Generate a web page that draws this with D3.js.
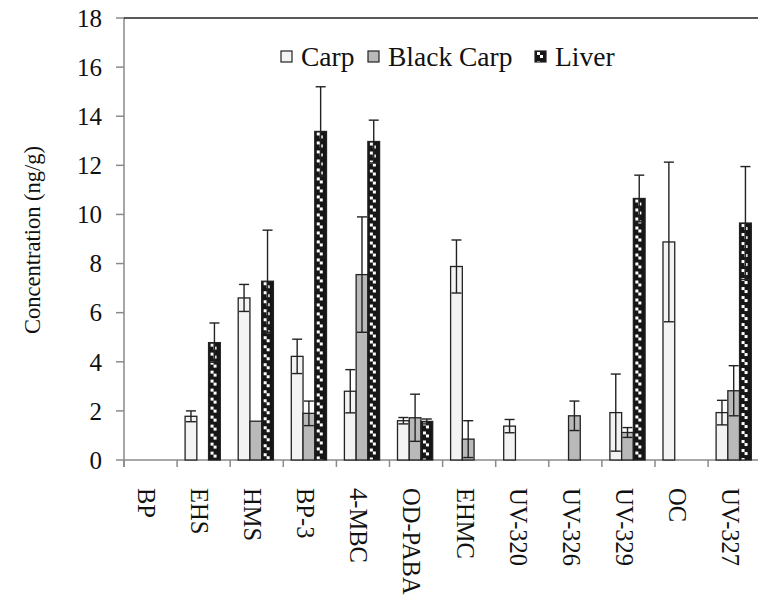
<!DOCTYPE html>
<html>
<head>
<meta charset="utf-8">
<script src="https://cdn.jsdelivr.net/npm/d3@7"></script>
<style>
  body { margin: 0; background: #fff; }
</style>
</head>
<body>
<div id="chart"></div>
<script>
// Data
const categories = ['BP', 'EHS', 'HMS', 'BP-3', '4-MBC', 'OD-PABA', 'EHMC', 'UV-320', 'UV-326', 'UV-329', 'OC', 'UV-327'];
const seriesNames = ['Carp', 'Black Carp', 'Liver'];

const carpVals = [0, 1.78, 6.6, 4.22, 2.8, 1.6, 7.88, 1.38, 0, 1.93, 8.88, 1.93];
const carpErr  = [0, 0.22, 0.55, 0.7, 0.88, 0.13, 1.08, 0.27, 0, 1.57, 3.25, 0.5];
const blackVals = [0, 0, 1.58, 1.9, 7.55, 1.72, 0.85, 0, 1.8, 1.12, 0, 2.82];
const blackErr  = [0, 0, 0, 0.5, 2.35, 0.96, 0.75, 0, 0.6, 0.2, 0, 1.02];
const liverVals = [0, 4.78, 7.28, 13.38, 12.97, 1.57, 0, 0, 0, 10.65, 0, 9.65];
const liverErr  = [0, 0.8, 2.08, 1.82, 0.87, 0.1, 0, 0, 0, 0.95, 0, 2.3];

const yTicks = [0, 2, 4, 6, 8, 10, 12, 14, 16, 18];

// Layout
const W = 758, H = 597;
const mLeft = 124, mTop = 18, mBottom = 460;
const step = 53.1;
const serif = "'Liberation Serif', 'Times New Roman', 'DejaVu Serif', serif";

const svg = d3.select('#chart').append('svg')
    .attr('width', W)
    .attr('height', H)
    .style('display', 'block')
    .attr('font-family', serif);

const defs = svg.append('defs');

const x = d3.scaleBand()
    .domain(categories)
    .range([mLeft, mLeft + step * categories.length])
    .padding(0);

const xs = d3.scaleBand()
    .domain(seriesNames)
    .range([8, 43.2]);

const y = d3.scaleLinear()
    .domain([0, 18])
    .range([mBottom, mTop]);

// checkered pattern for the liver bars, one per bar so it lines up
function liverPattern(id, px, py) {
    const p = defs.append('pattern')
        .attr('id', id)
        .attr('patternUnits', 'userSpaceOnUse')
        .attr('x', px)
        .attr('y', py)
        .attr('width', 12)
        .attr('height', 9);
    p.append('rect').attr('width', 12).attr('height', 9).attr('fill', '#161616');
    p.append('rect').attr('x', 2).attr('y', 1).attr('width', 3).attr('height', 3).attr('fill', '#fff');
    p.append('rect').attr('x', 5).attr('y', 4).attr('width', 3).attr('height', 3).attr('fill', '#fff');
    return `url(#${id})`;
}

const fills = { 'Carp': '#f3f3f3', 'Black Carp': '#b9b9b9' };

const rows = [];
categories.forEach((c, i) => {
    rows.push({ cat: c, s: 'Carp', v: carpVals[i], e: carpErr[i] });
    rows.push({ cat: c, s: 'Black Carp', v: blackVals[i], e: blackErr[i] });
    rows.push({ cat: c, s: 'Liver', v: liverVals[i], e: liverErr[i] });
});
const shown = rows.filter(d => d.v > 0);

// Axes
const axisColor = '#8a8a8a';
const gY = svg.append('g');
gY.append('line')
    .attr('x1', mLeft).attr('x2', mLeft)
    .attr('y1', y(18)).attr('y2', y(0) + 7)
    .attr('stroke', axisColor).attr('stroke-width', 1.5);
gY.selectAll('.ytick')
    .data(yTicks)
    .join('line')
    .attr('x1', mLeft - 8).attr('x2', mLeft)
    .attr('y1', d => y(d)).attr('y2', d => y(d))
    .attr('stroke', axisColor).attr('stroke-width', 1.5);
gY.selectAll('.ylab')
    .data(yTicks)
    .join('text')
    .attr('x', mLeft - 22)
    .attr('y', d => y(d))
    .attr('dy', '0.35em')
    .attr('text-anchor', 'end')
    .attr('font-size', 25)
    .attr('fill', '#111')
    .text(d => d);

// top border line
svg.append('line')
    .attr('x1', mLeft).attr('x2', W)
    .attr('y1', y(18)).attr('y2', y(18))
    .attr('stroke', '#222').attr('stroke-width', 1.5);

const gX = svg.append('g');
gX.append('line')
    .attr('x1', mLeft).attr('x2', W)
    .attr('y1', y(0)).attr('y2', y(0))
    .attr('stroke', axisColor).attr('stroke-width', 1.5);
gX.selectAll('.xtick')
    .data(categories)
    .join('line')
    .attr('x1', d => x(d)).attr('x2', d => x(d))
    .attr('y1', y(0)).attr('y2', y(0) + 7)
    .attr('stroke', axisColor).attr('stroke-width', 1.5);
gX.selectAll('.xlab')
    .data(categories)
    .join('text')
    .attr('transform', d => `translate(${x(d) + x.bandwidth() / 2 - 4}, 488) rotate(90)`)
    .attr('dy', '0.35em')
    .attr('font-size', 24.5)
    .attr('fill', '#111')
    .text(d => d);

// Bars
svg.append('g')
    .selectAll('rect')
    .data(shown)
    .join('rect')
    .attr('x', d => x(d.cat) + xs(d.s))
    .attr('y', d => y(d.v))
    .attr('width', xs.bandwidth())
    .attr('height', d => y(0) - y(d.v))
    .attr('fill', (d, i) => d.s === 'Liver'
        ? liverPattern('liver' + i, x(d.cat) + xs(d.s), y(d.v))
        : fills[d.s])
    .attr('stroke', '#222')
    .attr('stroke-width', 1.3);

// Error bars
const gE = svg.append('g')
    .attr('stroke', '#222')
    .attr('stroke-width', 1.4);
const errs = shown.filter(d => d.e > 0);
const cx = d => x(d.cat) + xs(d.s) + xs.bandwidth() / 2;
gE.selectAll('.ev')
    .data(errs)
    .join('line')
    .attr('x1', cx).attr('x2', cx)
    .attr('y1', d => y(d.v + d.e))
    .attr('y2', d => y(Math.max(0, d.v - d.e)));
gE.selectAll('.ct')
    .data(errs)
    .join('line')
    .attr('x1', d => cx(d) - 5).attr('x2', d => cx(d) + 5)
    .attr('y1', d => y(d.v + d.e)).attr('y2', d => y(d.v + d.e));
gE.selectAll('.cb')
    .data(errs)
    .join('line')
    .attr('x1', d => cx(d) - 5).attr('x2', d => cx(d) + 5)
    .attr('y1', d => y(Math.max(0, d.v - d.e))).attr('y2', d => y(Math.max(0, d.v - d.e)));

// Y title
svg.append('text')
    .attr('transform', `translate(32, ${(y(0) + y(18)) / 2 + 1}) rotate(-90)`)
    .attr('text-anchor', 'middle')
    .attr('dy', '0.35em')
    .attr('font-size', 22.5)
    .attr('fill', '#111')
    .text('Concentration (ng/g)');

// Legend
const legendX = [281, 368, 535];
const lg = svg.append('g');
seriesNames.forEach((s, i) => {
    const sx = legendX[i];
    lg.append('rect')
        .attr('x', sx).attr('y', 51)
        .attr('width', 11).attr('height', 11)
        .attr('fill', s === 'Liver' ? liverPattern('liverLegend', sx, 51) : fills[s])
        .attr('stroke', '#222')
        .attr('stroke-width', 1.2);
    lg.append('text')
        .attr('x', sx + 20)
        .attr('y', 66)
        .attr('font-size', 27.5)
        .attr('fill', '#111')
        .text(s);
});
</script>
</body>
</html>
